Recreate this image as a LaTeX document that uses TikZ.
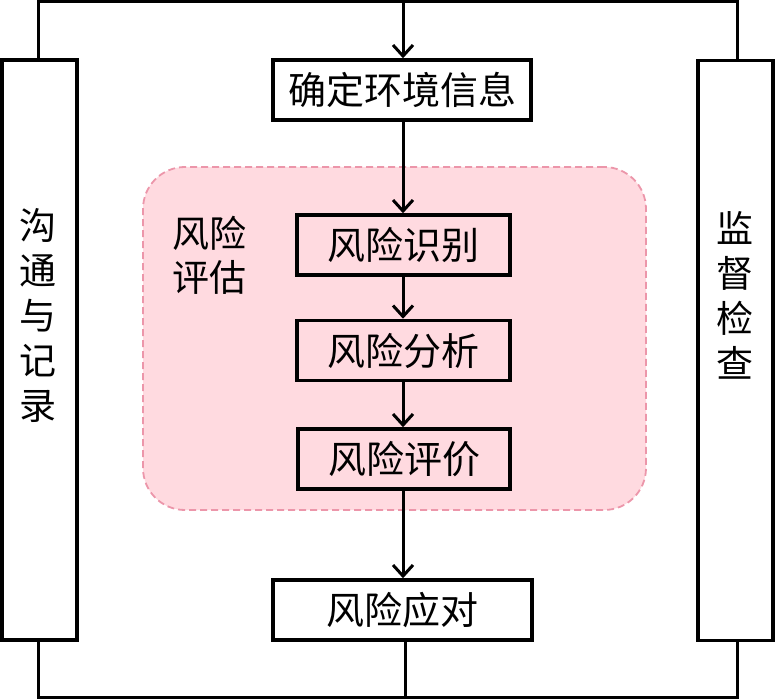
\documentclass[tikz,border=0pt]{standalone}
\usepackage{fontspec}
\newfontfamily\cjk{Noto Sans CJK SC}
\usetikzlibrary{arrows.meta}
\definecolor{pinkfill}{RGB}{255,218,224}
\definecolor{pinkline}{RGB}{236,150,170}
\begin{document}
\begin{tikzpicture}[x=1pt,y=-1pt,
  box/.style={draw=black,line width=3.5pt,inner sep=0pt,font=\cjk\fontsize{38}{44}\selectfont},
  sidebox/.style={draw=black,line width=3.5pt,inner sep=0pt,minimum width=75pt,minimum height=580pt},
  sidetext/.style={align=center,inner sep=0pt,font=\cjk\fontsize{37}{45}\selectfont},
  conn/.style={line width=3pt},
  arr/.style={conn,-{Straight Barb[length=11pt,width=20pt]}}]
\useasboundingbox (0,0) rectangle (776,700);
% risk assessment area
\node[draw=pinkline,fill=pinkfill,line width=1.8pt,dash pattern=on 7pt off 4pt,rounded corners=42pt,minimum width=503pt,minimum height=343pt] (area) at (394.5,338.5) {};
\node[sidetext,font=\cjk\fontsize{37}{44}\selectfont] (arealabel) at (209,255) {风险\\评估};
% side boxes
\node[sidebox] (left) at (39.5,350) {};
\node[sidetext] (lefttext) at (38,315) {沟\\通\\与\\记\\录};
\node[sidebox] (right) at (735.5,350.5) {};
\node[sidetext] (righttext) at (735,295) {监\\督\\检\\查};
% main boxes
\node[box,minimum width=258pt,minimum height=60pt] (env) at (402,90) {确定环境信息};
\node[box,minimum width=213pt,minimum height=60pt] (ident) at (403.5,245) {风险识别};
\node[box,minimum width=213pt,minimum height=60pt] (anal) at (403.5,350.5) {风险分析};
\node[box,minimum width=212pt,minimum height=60pt] (eval) at (404,459) {风险评价};
\node[box,minimum width=259pt,minimum height=60pt] (resp) at (402.5,610) {风险应对};
% loop coordinates
\coordinate (tl) at (38,2);
\coordinate (tr) at (737,2);
\coordinate (tm) at (403,2);
\coordinate (bl) at (38,697);
\coordinate (br) at (737,697);
\coordinate (bm) at (405,697);
% loop
\draw[conn] (left.north -| tl) -- (tl) -- (tr) -- (right.north -| tr);
\draw[conn] (left.south -| bl) -- (bl) -- (br) -- (right.south -| br);
% flow
\draw[arr] (tm) -- (tm |- env.north);
\draw[arr] (env.south -| tm) -- (tm |- ident.north);
\draw[arr] (ident.south -| tm) -- (tm |- anal.north);
\draw[arr] (anal.south -| tm) -- (tm |- eval.north);
\draw[arr] (eval.south -| tm) -- (tm |- resp.north);
\draw[conn] (resp.south -| bm) -- (bm);
\end{tikzpicture}
\end{document}
